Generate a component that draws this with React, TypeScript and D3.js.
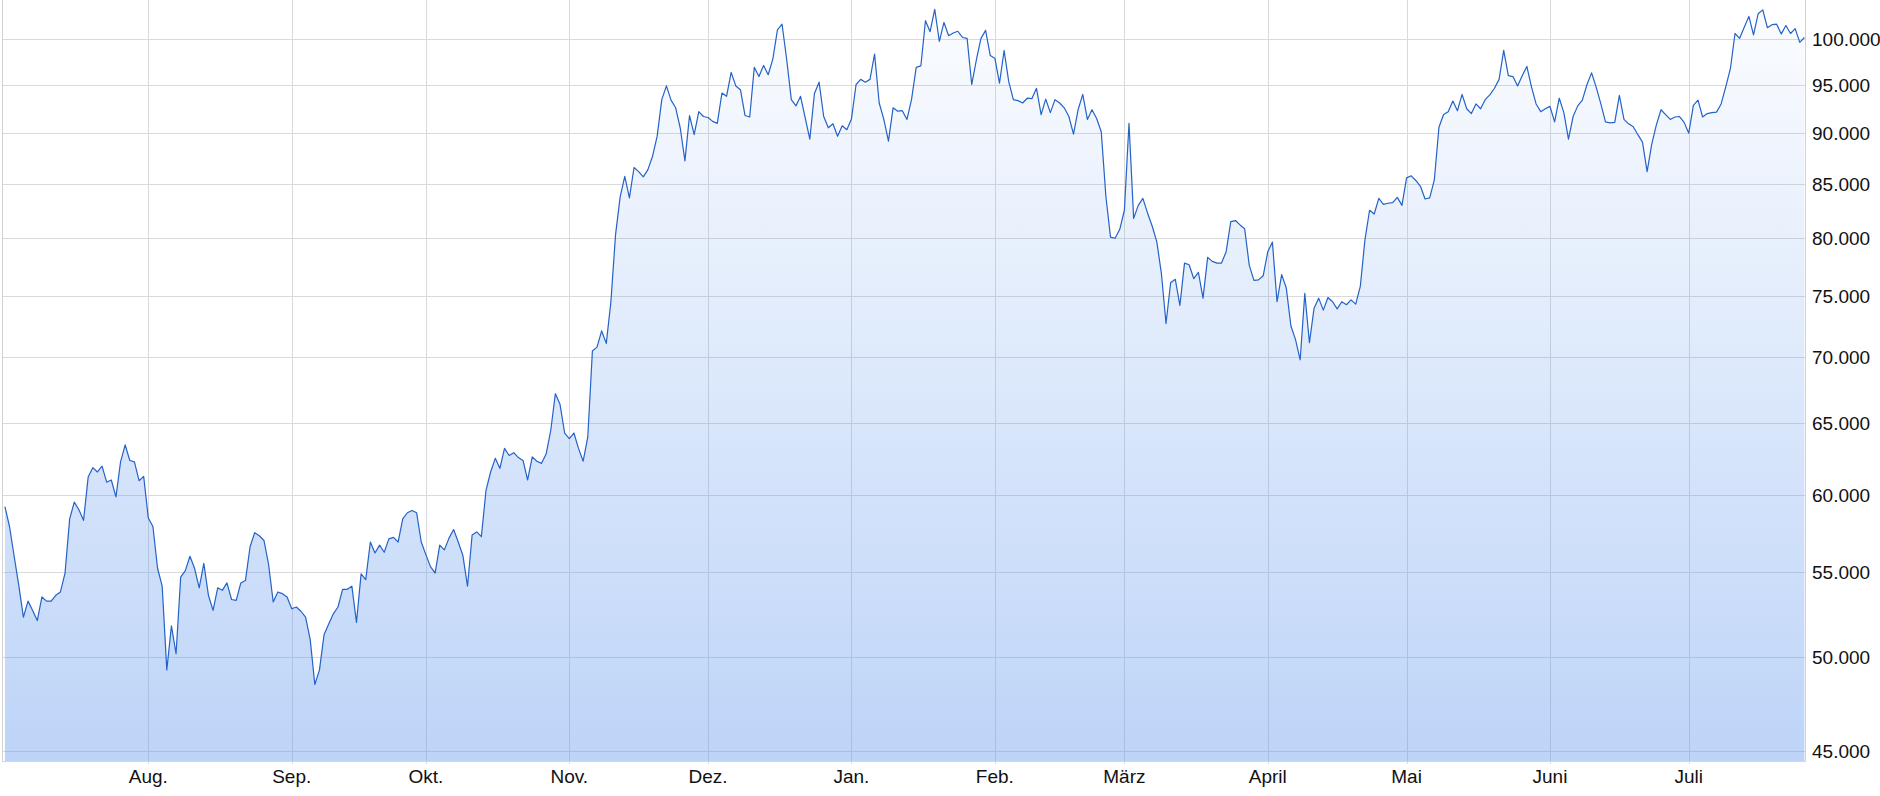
import React from "react";
import * as d3 from "d3";

// Daily closing values (EUR)
const jul24 = [59200, 57900, 56000, 54200, 52300, 53250, 52700, 52100, 53500, 53250, 53250, 53600, 53800, 54950, 58400, 59500, 59000, 58300, 61200, 61850, 61550, 61950, 60850, 61000, 59850, 62250, 63450, 62350, 62250, 60950, 61250];
const aug24 = [58450, 57900, 55250, 54150, 49300, 51800, 50200, 54700, 55100, 56000, 55250, 54050, 55550, 53600, 52700, 54050, 53900, 54350, 53350, 53300, 54350, 54500, 56600, 57500, 57300, 57000, 55500, 53200, 53800, 53700, 53500];
const sep24 = [52800, 52900, 52650, 52300, 51000, 48500, 49300, 51300, 51900, 52500, 52900, 53960, 53960, 54150, 52000, 54900, 54550, 56900, 56200, 56700, 56250, 57100, 57200, 56900, 58400, 58800, 58950, 58800, 56900];
const okt24 = [56100, 55350, 54950, 56700, 56400, 57150, 57700, 56900, 56050, 54150, 57350, 57550, 57250, 60300, 61550, 62500, 61800, 63200, 62700, 62900, 62550, 62350, 61000, 62600, 62300, 62150, 62800, 64500, 67200, 66400, 64300];
const nov24 = [63900, 64300, 63200, 62300, 64000, 70500, 70800, 72100, 71100, 74500, 80300, 83800, 85750, 83700, 86600, 86200, 85700, 86400, 87700, 89700, 93450, 94900, 93400, 92600, 90500, 87250, 91800, 89850, 92200, 91700];
const dez24 = [91600, 91200, 91000, 94150, 93800, 96350, 94900, 94500, 91800, 91650, 96900, 95900, 97100, 96100, 97800, 101050, 101700, 97750, 93450, 92800, 93800, 91550, 89400, 94100, 95300, 91700, 90550, 90950, 89700, 90750, 90350];
const jan25 = [91450, 95050, 95600, 95300, 95600, 98350, 93100, 91400, 89200, 92600, 92250, 92300, 91400, 93500, 96900, 97050, 102100, 100850, 103400, 99750, 101900, 100400, 100700, 100900, 100200, 100100, 95050, 97700, 100100, 101000, 98200];
const feb25 = [97900, 95200, 98750, 95350, 93450, 93350, 93100, 93600, 93550, 94650, 91900, 93500, 92100, 93450, 93100, 92600, 91700, 89900, 92400, 94000, 91400, 92400, 91500, 90150, 83850, 80100, 80000, 80800];
const mar25 = [82550, 91000, 81800, 83000, 83650, 82300, 81100, 79700, 76900, 72700, 76100, 76400, 74200, 77800, 77650, 76450, 77000, 74800, 78300, 77950, 77800, 77800, 78800, 81500, 81600, 81200, 80850, 77600, 76300, 76350, 76700];
const apr25 = [78800, 79650, 74500, 76800, 75650, 72500, 71400, 69800, 75200, 71150, 73950, 74800, 73800, 74850, 74500, 73900, 74500, 74250, 74650, 74300, 75800, 79850, 82550, 82200, 83650, 83100, 83200, 83250, 83750, 83000];
const mai25 = [85600, 85800, 85350, 84800, 83600, 83700, 85400, 90600, 91900, 92200, 93300, 92300, 94000, 92500, 92000, 93000, 92500, 93450, 93950, 94650, 95600, 98750, 96000, 95900, 94900, 96000, 97000, 94800, 93000, 92200, 92500];
const jun25 = [92750, 91150, 93600, 92100, 89400, 91700, 92800, 93400, 95050, 96300, 94750, 93000, 91150, 91050, 91100, 93900, 91400, 90950, 90650, 89850, 89100, 86200, 88900, 90850, 92400, 91900, 91400, 91650, 91700, 91100];
const jul25 = [90000, 92850, 93400, 91650, 92000, 92100, 92150, 93000, 94800, 96750, 100650, 100100, 101350, 102600, 100500, 102900, 103350, 101300, 101650, 101700, 100600, 101550, 100650, 101200, 99650, 100200];

const monthSeries: [number, number, number[]][] = [
  [2024, 6, jul24], [2024, 7, aug24], [2024, 8, sep24], [2024, 9, okt24],
  [2024, 10, nov24], [2024, 11, dez24], [2025, 0, jan25], [2025, 1, feb25],
  [2025, 2, mar25], [2025, 3, apr25], [2025, 4, mai25], [2025, 5, jun25],
  [2025, 6, jul25],
];

const monthLabels = ["Jan.", "Feb.", "März", "April", "Mai", "Juni", "Juli", "Aug.", "Sep.", "Okt.", "Nov.", "Dez."];
const yTicks = [45000, 50000, 55000, 60000, 65000, 70000, 75000, 80000, 85000, 90000, 95000, 100000];

const W = 1880;
const H = 796;
const plotLeft = 2.5;
const plotRight = 1805.5;
const plotBottom = 761;

const deFormat = d3.formatLocale({ decimal: ",", thousands: ".", grouping: [3], currency: ["", "€"] }).format(",.0f");

type Pt = { i: number; date: Date; value: number };

const points: Pt[] = [];
monthSeries.forEach(([y, m, vals]) => {
  vals.forEach((v, k) => {
    points.push({ i: points.length, date: new Date(y, m, k + 1), value: v });
  });
});

export default function App() {
  const x = d3.scaleLinear().domain([0, points.length - 1]).range([4.9, 1804.4]);
  const y = d3.scaleLog().domain([44510, 104500]).range([plotBottom, 0]);

  const line = d3.line<Pt>().x((d) => x(d.i)).y((d) => y(d.value));
  const area = d3.area<Pt>().x((d) => x(d.i)).y0(plotBottom).y1((d) => y(d.value));

  const monthTicks = points.filter((p) => p.date.getDate() === 1 && p.i > 0);

  return (
    <div style={{ position: "absolute", left: 0, top: 0 }}>
      <svg width={W} height={H} style={{ display: "block" }} fontFamily="'Liberation Sans', Arial, sans-serif">
        <defs>
          <linearGradient id="fillGrad" gradientUnits="userSpaceOnUse" x1="0" y1="0" x2="0" y2={plotBottom}>
            <stop offset="0" stopColor="#5a93ed" stopOpacity={0.02} />
            <stop offset="1" stopColor="#5a93ed" stopOpacity={0.4} />
          </linearGradient>
        </defs>
        <rect x={0} y={0} width={W} height={H} fill="#ffffff" />
        {yTicks.map((t) => (
          <line key={"gy" + t} x1={plotLeft} x2={plotRight} y1={Math.round(y(t)) + 0.5} y2={Math.round(y(t)) + 0.5} stroke="#dadada" strokeWidth={1} />
        ))}
        {monthTicks.map((p) => (
          <line key={"gx" + p.i} x1={Math.round(x(p.i)) + 0.5} x2={Math.round(x(p.i)) + 0.5} y1={0} y2={plotBottom + 3} stroke="#dadada" strokeWidth={1} />
        ))}
        <line x1={plotLeft} x2={plotLeft} y1={0} y2={plotBottom + 1} stroke="#d2d2d2" />
        <line x1={plotRight} x2={plotRight} y1={0} y2={plotBottom + 1} stroke="#d2d2d2" />
        <line x1={plotLeft} x2={plotRight} y1={plotBottom + 0.5} y2={plotBottom + 0.5} stroke="#d8d8d8" />
        <path d={area(points) || ""} fill="url(#fillGrad)" />
        <path d={line(points) || ""} fill="none" stroke="#2462c8" strokeWidth={1.2} strokeLinejoin="round" />
        {yTicks.map((t) => (
          <text key={"ty" + t} x={1812} y={y(t)} dy="0.36em" fontSize={19} fill="#111">
            {deFormat(t)}
          </text>
        ))}
        {monthTicks.map((p) => (
          <text key={"tx" + p.i} x={x(p.i)} y={782.5} textAnchor="middle" fontSize={19} fill="#111">
            {monthLabels[p.date.getMonth()]}
          </text>
        ))}
      </svg>
    </div>
  );
}
